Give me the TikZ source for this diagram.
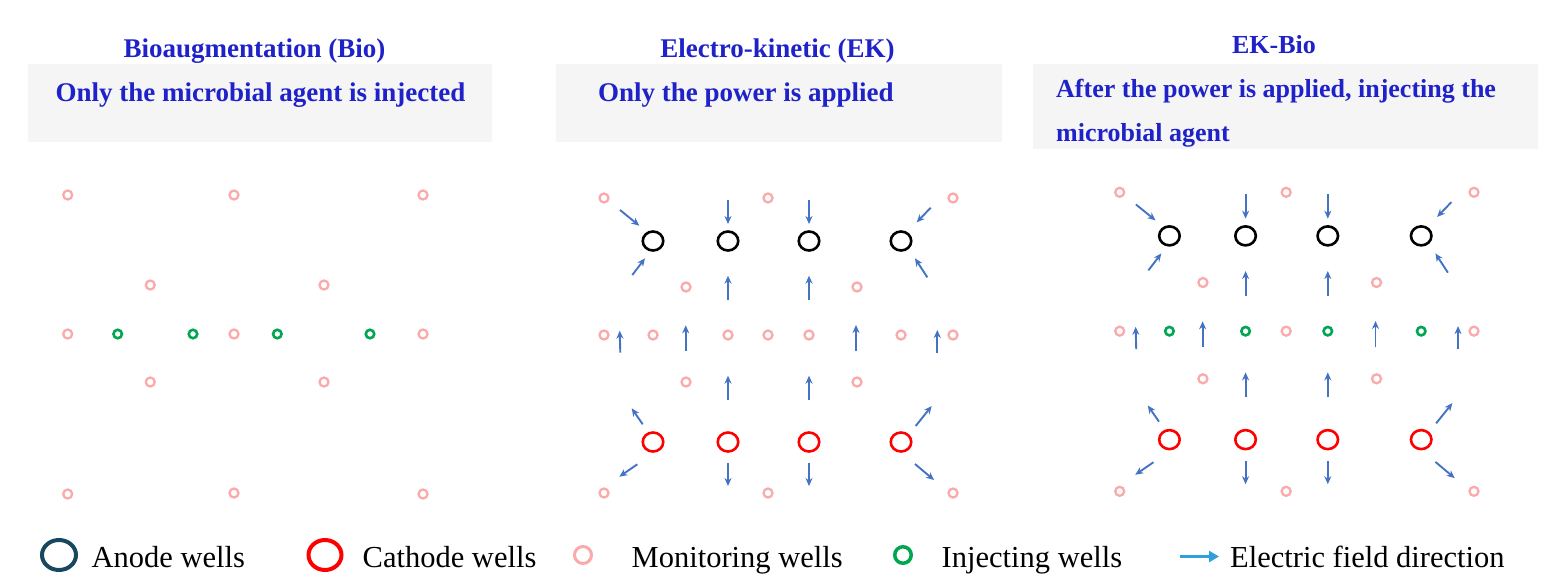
\documentclass[tikz,border=0pt]{standalone}
\usepackage{fontspec}
\setmainfont{Liberation Serif}
\usepackage{tikz}
\usetikzlibrary{shapes.geometric, arrows.meta}
\usepackage{xcolor}

\definecolor{headblue}{RGB}{30,34,200}
\definecolor{boxgray}{RGB}{245,245,245}
\definecolor{wellpink}{RGB}{250,170,170}
\definecolor{wellgreen}{RGB}{0,166,80}
\definecolor{fieldblue}{RGB}{68,114,196}
\definecolor{legblue}{RGB}{48,160,220}
\definecolor{anodeteal}{RGB}{24,72,96}

\tikzset{
  monitor/.style={circle, draw=wellpink, line width=2.3, minimum size=9, inner sep=0},
  inject/.style={circle, draw=wellgreen, line width=2.6, minimum size=8.5, inner sep=0},
  anode/.style={ellipse, draw=black, line width=2.6, minimum width=20.5, minimum height=19, inner sep=0},
  cathode/.style={ellipse, draw=red, line width=2.6, minimum width=20.5, minimum height=19, inner sep=0},
  field/.style={->, draw=fieldblue, line width=1.9},
  paneltitle/.style={anchor=base, text=headblue, font=\fontsize{27}{32}\selectfont\bfseries, inner sep=0},
  boxtext/.style={anchor=base west, text=headblue, font=\fontsize{27}{32}\selectfont\bfseries, inner sep=0},
  legtext/.style={anchor=base west, font=\fontsize{30.5}{36}\selectfont, inner sep=0}
}

% wells and field arrows of one electro-kinetic panel
\newcommand{\wellgrid}[2]{%
  \foreach \x [count=\i] in {653,728,809,901} {
    \node[anode]   (#1-a\i) at (\x,241) {};
    \node[cathode] (#1-c\i) at (\x,442) {};
    \node[#2]      (#1-m\i) at (\x,335) {};
  }
  \foreach \x [count=\i] in {604,768,953} {
    \node[monitor] (#1-t\i) at (\x,198) {};
    \node[monitor] (#1-e\i) at (\x,335) {};
    \node[monitor] (#1-b\i) at (\x,493) {};
  }
  \foreach \x [count=\i] in {686,857} {
    \node[monitor] (#1-u\i) at (\x,287) {};
    \node[monitor] (#1-l\i) at (\x,382) {};
  }
  \foreach \ax/\ay/\bx/\by in {620/210/639.3/225.7, 728/200/728/224, 809/200/809/224,
      930.7/207.7/916.7/222.3, 632.3/275/645/258.3, 927.3/277.3/915/258.3,
      728/300/728/275.7, 809/300/809/275.7,
      620.3/352.7/619.7/330.7, 685.7/351/685.7/325.3, 856/351/856/325, 937.3/352.7/937.3/330,
      728/400/728/375.7, 809/400/809/375.7,
      642.7/424.3/631.7/408.3, 915.7/426/931.7/406, 637.3/464.3/619.3/476.7, 915/464/934/480,
      728/463.3/728/486, 809/463.3/809/486}
    \draw[field] (\ax,\ay) -- (\bx,\by);
}

\begin{document}
\begin{tikzpicture}[x=1pt, y=-1pt, >={Stealth[length=8, width=7]}]
  \useasboundingbox (0,0) rectangle (1566,573);

  % headers
  \fill[boxgray] (28,64) rectangle (492,142);
  \fill[boxgray] (556,64) rectangle (1002,142);
  \fill[boxgray] (1033,64) rectangle (1538,149);

  \node[paneltitle] (bio-head) at (254.5,57.5) {Bioaugmentation (Bio)};
  \node[paneltitle] (ek-head) at (777.5,57) {Electro-kinetic (EK)};
  \node[paneltitle, font=\fontsize{26}{30}\selectfont\bfseries] (ekb-head) at (1274,53.5) {EK-Bio};

  \node[boxtext, anchor=base] (bio-note) at (260.5,101.5) {Only the microbial agent is injected};
  \node[boxtext] (ek-note) at (598,101) {Only the power is applied};
  \node[boxtext, font=\fontsize{26}{30}\selectfont\bfseries] (ekb-note) at (1056,97.5) {After the power is applied, injecting the};
  \node[boxtext, font=\fontsize{26}{30}\selectfont\bfseries] (ekb-note2) at (1056,141.5) {microbial agent};

  % Bio panel
  \foreach \x/\y [count=\i] in {67.7/195, 234/195, 423/195, 150.3/285, 324/285,
      67.7/334, 234/334, 423/334, 150.3/382, 324/382, 67.7/494, 234/493, 423/494}
    \node[monitor] (bio-m\i) at (\x,\y) {};
  \foreach \x [count=\i] in {117.7,193,277.3,370}
    \node[inject] (bio-i\i) at (\x,334) {};

  % EK panel
  \wellgrid{ek}{monitor}

  % EK-Bio panel
  \begin{scope}[shift={(506.5,-8.4)}, xscale=1.0152, yscale=1.0136]
    \wellgrid{ekb}{inject}
  \end{scope}

  % legend
  \node[ellipse, draw=anodeteal, line width=4, minimum width=34, minimum height=30, inner sep=0] (key-a) at (59,555) {};
  \node[legtext] (key-at) at (91.5,567) {Anode wells};
  \node[ellipse, draw=red, line width=4, minimum width=33, minimum height=30, inner sep=0] (key-c) at (325,555) {};
  \node[legtext] (key-ct) at (362.5,567) {Cathode wells};
  \node[monitor, line width=3, minimum size=17] (key-m) at (583,555) {};
  \node[legtext] (key-mt) at (631.5,567) {Monitoring wells};
  \node[inject, line width=3.5, minimum size=16.5] (key-i) at (903,555) {};
  \node[legtext] (key-it) at (941.5,567) {Injecting wells};
  \coordinate (key-f0) at (1180,556.5);
  \coordinate (key-f1) at (1219,556.5);
  \draw[->, legblue, line width=3, >={Triangle[length=10, width=11]}] (key-f0) -- (key-f1);
  \node[legtext] (key-ft) at (1230,567) {Electric field direction};
\end{tikzpicture}
\end{document}
